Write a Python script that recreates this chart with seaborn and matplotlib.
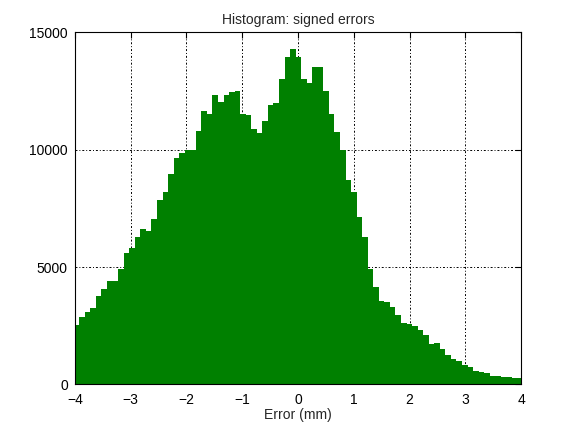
# Histogram of signed errors (MATLAB-style look), redrawn with seaborn
import numpy as np
import pandas as pd
import matplotlib
matplotlib.use("Agg")
import matplotlib.pyplot as plt
import seaborn as sns

# ---- data ----
# 81 bins, width ~0.0994 mm, first edge slightly left of -4 (clipped by the x limits)
bin_start = -4.02
bin_width = 0.0994
counts = [
    2550, 2890, 3100, 3270, 3780, 4080, 4420, 4420, 4930, 5610,
    5820, 6290, 6630, 6545, 7055, 7860, 8200, 8970, 9650, 9860,
    9990, 9990, 10800, 11650, 11520, 12330, 12030, 12330, 12450, 12500,
    11520, 11475, 10880, 10710, 11220, 11900, 11985, 13005, 13940, 14280,
    13940, 13005, 12835, 13515, 13515, 12500, 11520, 10750, 9990, 8710,
    8200, 7140, 6290, 4930, 4165, 3570, 3530, 3315, 2975, 2635,
    2590, 2510, 2300, 2125, 1740, 1785, 1530, 1275, 1100, 980,
    850, 765, 595, 550, 470, 340, 340, 300, 300, 255,
    255,
]
x_ticks = [-4, -3, -2, -1, 0, 1, 2, 3, 4]
y_ticks = [0, 5000, 10000, 15000]

n_bins = len(counts)
bin_end = bin_start + n_bins * bin_width
centers = bin_start + bin_width * (np.arange(n_bins) + 0.5)
df = pd.DataFrame({"error": centers, "count": counts})

# ---- style ----
sns.set_style("white")
plt.rcParams["font.family"] = ["Liberation Sans", "DejaVu Sans"]
plt.rcParams["font.size"] = 10

fig = plt.figure(figsize=(5.76, 4.32), dpi=100)
ax = fig.add_axes([0.13, 0.11, 0.775, 0.815])

sns.histplot(data=df, x="error", weights="count", bins=n_bins,
             binrange=(bin_start, bin_end), color="#008000",
             edgecolor="none", linewidth=0, antialiased=False,
             alpha=1, ax=ax)

ax.set_xlim(-4, 4)
ax.set_ylim(0, 15000)
ax.set_xticks(x_ticks)
ax.set_yticks(y_ticks)
ax.set_xticklabels(["\u2212%d" % -t if t < 0 else "%d" % t for t in x_ticks])
ax.set_yticklabels([str(t) for t in y_ticks])

# grid sits behind the bars, like the MATLAB original
ax.grid(True, color="black", linestyle=(0, (2, 2, 1, 2)), linewidth=0.7)
ax.set_axisbelow(True)
for s in ax.spines.values():
    s.set_color("black")
    s.set_linewidth(0.8)
    s.set_zorder(5)
ax.tick_params(direction="in", length=4, width=0.8, top=True, right=True,
               colors="black", labelsize=10)
ax.tick_params(axis="x", pad=6)
ax.tick_params(axis="y", pad=5)

ax.set_title("Histogram: signed errors", fontsize=10)
ax.set_xlabel("Error (mm)", fontsize=10, labelpad=1)
ax.set_ylabel("")

plt.savefig("out.png", dpi=100)
